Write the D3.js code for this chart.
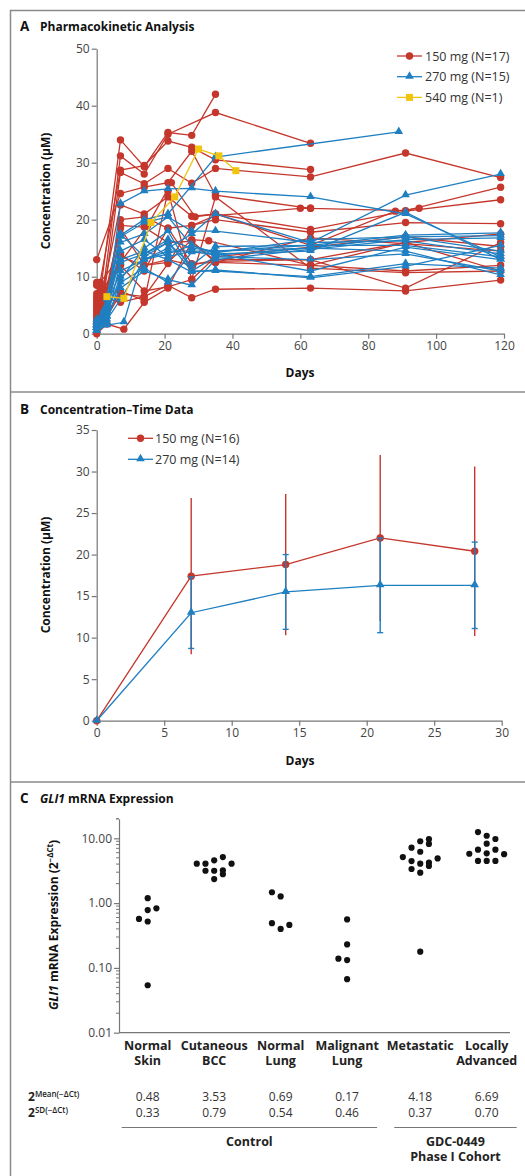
<!DOCTYPE html>
<html lang="en">
<head>
<meta charset="UTF-8">
<title>GDC-0449 pharmacokinetics and GLI1 expression</title>
<script src="https://d3js.org/d3.v7.min.js"></script>
<style>
  body { margin: 0; background: #fff; }
  svg text { font-family: 'Open Sans', 'Liberation Sans', sans-serif; }
</style>
</head>
<body>
<div id="chart"></div>
<script>
// ---- panel A: individual patients, [day, concentration µM]
const red150 = [
  [[0,1],[1,7],[7,34],[14,29.3],[21,35.3],[28,34.8],[35,42]],
  [[0,2],[2,8],[7,31.2],[14,28],[21,35],[35,38.8],[63,33.4]],
  [[0,3],[1,9],[7,28.7],[14,29.5],[21,33.8],[28,32.7],[35,30.5],[63,28.8]],
  [[0,5],[2,6],[7,28.3],[14,26.3],[21,29],[28,26.4],[35,29],[63,27.5],[91,31.7],[119,27.4]],
  [[0,13],[7,24.6],[14,25.7],[21,26.5],[28,32],[35,24.3],[63,22],[91,21.6],[119,25.7]],
  [[0,8.5],[1,5],[7,22.6],[14,21],[21,24],[28,20.6],[35,21],[63,18.3],[91,21.5],[119,23.5]],
  [[0,6],[2,4],[7,20],[14,20.5],[21,18.5],[28,19],[35,20],[63,17.8],[91,19.5],[119,19.3]],
  [[0,4],[1,3],[7,19],[14,18.7],[21,16],[28,16.2],[35,12.5],[63,16.8],[91,15.8],[119,14.5]],
  [[0,2.5],[2,5],[7,18.5],[14,12],[21,13],[28,12],[35,13],[63,13],[91,16],[119,17.5]],
  [[0,7],[1,9],[7,13.5],[14,12],[21,12.5],[28,16.5],[33,16.3],[63,12],[91,11],[119,12]],
  [[0,5.5],[7,12],[14,7.5],[21,8.2],[28,9.5],[35,24],[63,11.5],[91,10.7],[119,11]],
  [[0,3.5],[2,2],[7,7],[14,6.5],[21,8.5],[28,6.3],[35,7.8],[63,8],[91,7.5],[119,9.4]],
  [[0,0],[3,1.7],[8,0.8],[14,5.5],[21,8],[28,16.2],[35,12.7],[63,13],[91,8],[119,16]],
  [[0,9],[1,6.5],[7,5.5],[14,6.5],[21,12.3],[28,19],[35,20.7],[60,22],[63,22]],
  [[0,4.5],[1,7],[7,12.5],[15,19],[22,26.5],[29,20.5],[35,21],[63,15.5],[88,21.5],[95,22]],
  [[0,6.5],[2,3],[7,14],[14,11],[21,18.5],[28,12.3],[35,12.5],[63,12],[91,16],[119,11]],
  [[0,1.5],[2,2.5],[7,7.5],[14,5.8],[21,25],[28,9.5],[35,13.5],[63,15.2],[91,17],[119,15.3]]
];
const blue270 = [
  [[0,1],[3,4],[7,22.8],[14,25],[21,25.4],[28,25.5],[35,25],[63,24],[91,21],[119,13.5]],
  [[0,2],[3,5],[7,17.3],[14,20],[21,21],[35,31],[89,35.4]],
  [[0,1.5],[2,3],[7,17],[14,19.5],[21,20.5],[28,18],[35,18],[63,16],[91,24.3],[119,28]],
  [[0,0.5],[3,2.5],[7,12.5],[14,14],[21,16.5],[28,15],[35,14.5],[63,15.5],[91,17.3],[119,17.7]],
  [[0,1],[2,2],[7,10],[14,13],[21,14.5],[28,14.5],[35,13.8],[63,15],[91,17],[119,17.2]],
  [[0,1.5],[3,3],[7,8],[14,11],[21,9.5],[28,8.5],[35,13],[63,14.8],[91,16.5],[119,16.8]],
  [[0,0.5],[3,1.5],[8,2],[14,14],[21,16],[28,11],[35,11],[63,10],[91,12.3],[119,11.5]],
  [[0,1],[3,4.5],[7,9],[14,11.5],[21,9],[28,14.3],[35,14],[63,11],[91,15.2],[119,13]],
  [[0,2],[3,6],[7,14.5],[14,16.5],[21,13.5],[28,14.5],[35,14.5],[63,15],[91,14.5],[119,10.3]],
  [[0,1],[2,3.5],[7,11],[14,13],[21,15],[28,17.5],[35,21],[63,16],[91,16.3],[119,14]],
  [[0,0.5],[3,3],[7,16],[14,17.5],[21,20.5],[28,15.5],[35,14],[63,14.5],[91,21.3],[119,13]],
  [[0,1.5],[3,5],[7,13],[14,14.5],[21,13],[28,10.8],[35,11.2],[63,9.8],[91,11.8],[119,15.5]],
  [[0,2.5],[2,4],[7,17.5],[14,13.5],[21,16],[28,12],[35,15.3],[63,15.5],[91,15.5],[119,13.5]],
  [[0,1],[3,2],[7,9.5],[14,15],[21,18],[28,11],[35,13.5],[63,13],[91,14],[119,11]],
  [[0,0.5],[2,1.5],[7,6],[14,13],[21,14],[28,15.5],[35,14.2],[63,16.5],[91,17],[119,14.5]]
];
const yellow540 = [
  [[3,6.5],[8,6.2],[16,19.5],[23,24],[30,32.4],[36,31.2],[41,28.6]]
];
const legendA = ["150 mg (N=17)", "270 mg (N=15)", "540 mg (N=1)"];

// ---- panel B: mean ± SD
const daysB = [0, 7, 14, 21, 28];
const mean150 = [0, 17.4, 18.8, 22, 20.4];
const sd150 = [0, 9.4, 8.5, 10, 10.2];
const mean270 = [0, 13, 15.5, 16.3, 16.3];
const sd270 = [0, 4.3, 4.5, 5.7, 5.2];
const legendB = ["150 mg (N=16)", "270 mg (N=14)"];

// ---- panel C: GLI1 expression, [column offset, value]
const categories = [["Normal","Skin"], ["Cutaneous","BCC"], ["Normal","Lung"], ["Malignant","Lung"], ["Metastatic"], ["Locally","Advanced"]];
const catGroup = [0, 0, 0, 0, 1, 1];
const groupNames = [["Control"], ["GDC-0449", "Phase I Cohort"]];
const meanVals = ["0.48", "3.53", "0.69", "0.17", "4.18", "6.69"];
const sdVals = ["0.33", "0.79", "0.54", "0.46", "0.37", "0.70"];
const dotsC = [
  [[0,1.19],[0,0.78],[1,0.83],[-1,0.57],[0,0.52],[0,0.054]],
  [[-2,4.06],[-1,4.06],[0,4.57],[1,5.14],[2,4.06],[-1,3.16],[0,3.16],[1,3.2],[1,2.8],[0,2.35]],
  [[-1,1.47],[0,1.27],[-1,0.49],[0,0.40],[1,0.46]],
  [[0,0.56],[0,0.23],[-1,0.139],[0,0.132],[0,0.067]],
  [[-1,7.16],[0,9.0],[1,9.7],[1,8.2],[-2,5.14],[-1,4.46],[0,6.2],[2,4.9],[0,4.06],[1,4.2],[1,3.74],[-1,3.36],[0,2.95],[0,0.178]],
  [[-1,12.5],[0,10.96],[1,9.76],[0,8.27],[-2,5.78],[-1,6.67],[0,5.86],[1,6.67],[2,5.7],[-1,4.47],[0,4.47],[1,4.47]]
];
const yTicksC = [0.01, 0.1, 1, 10];

const RED = "#c5372c", BLUE = "#1f7fc1", YELLOW = "#f1c40f";
const W = 525, H = 1176;

const svg = d3.select("#chart").append("svg")
    .attr("width", W).attr("height", H);

// frame and panel separators
svg.append("rect").attr("x", 10.5).attr("y", 10.5).attr("width", 540).attr("height", 1200)
    .attr("fill", "none").attr("stroke", "#8a8a8a").attr("stroke-width", 1.5);
[392, 782].forEach(y => svg.append("line").attr("x1", 10).attr("x2", W).attr("y1", y).attr("y2", y)
    .attr("stroke", "#8a8a8a").attr("stroke-width", 1.5));

function panelTitle(letter, y, parts) {
    svg.append("text").attr("x", 20).attr("y", y).attr("font-size", 13.5).attr("font-weight", 700)
        .attr("fill", "#111").text(letter);
    const t = svg.append("text").attr("x", 40).attr("y", y).attr("font-size", 12)
        .attr("font-weight", 700).attr("fill", "#111");
    parts.forEach(p => t.append("tspan").attr("font-style", p.italic ? "italic" : null).text(p.text));
}

function styleAxis(g) {
    g.select(".domain").attr("stroke", "#777").attr("stroke-width", 1.2);
    g.selectAll(".tick line").attr("stroke", "#777").attr("stroke-width", 1.2);
    g.selectAll(".tick text").attr("fill", "#444").attr("font-size", 12)
        .attr("font-family", "'Open Sans', 'Liberation Sans', sans-serif");
}

function marker(g, kind, color, x, y) {
    if (kind === "circle") {
        g.append("circle").attr("cx", x).attr("cy", y).attr("r", 3.7).attr("fill", color);
    } else if (kind === "triangle") {
        g.append("path").attr("d", d3.symbol(d3.symbolTriangle).size(32)())
            .attr("transform", `translate(${x},${y - 0.5})`).attr("fill", color);
    } else {
        g.append("rect").attr("x", x - 3.5).attr("y", y - 3.5).attr("width", 7).attr("height", 7).attr("fill", color);
    }
}

function axisLabel(x, y, text, rotate) {
    svg.append("text").attr("transform", `translate(${x},${y})` + (rotate ? " rotate(-90)" : ""))
        .attr("text-anchor", "middle").attr("font-size", 12).attr("font-weight", 700)
        .attr("fill", "#111").text(text);
}

// ================= Panel A =================
panelTitle("A", 31, [{text: "Pharmacokinetic Analysis"}]);
const xA = d3.scaleLinear().domain([0, 120]).range([96.7, 504]);
const yA = d3.scaleLinear().domain([0, 50]).range([333.7, 48.7]);

svg.append("g").attr("transform", `translate(0,${yA(0)})`)
    .call(d3.axisBottom(xA).tickValues(d3.range(0, 121, 20)).tickSize(5).tickSizeOuter(0).tickPadding(3))
    .call(styleAxis);
svg.append("g").attr("transform", `translate(${xA(0)},0)`)
    .call(d3.axisLeft(yA).tickValues(d3.range(0, 51, 10)).tickSize(5).tickSizeOuter(0).tickPadding(2))
    .call(styleAxis);
axisLabel(300, 377, "Days");
axisLabel(50, 191, "Concentration (\u03BCM)", true);

const lineA = d3.line().x(d => xA(d[0])).y(d => yA(d[1]));
const gA = svg.append("g");
function drawSeries(list, color, kind) {
    list.forEach(s => {
        gA.append("path").datum(s).attr("d", lineA).attr("fill", "none")
            .attr("stroke", color).attr("stroke-width", 1.3);
        s.forEach(d => marker(gA, kind, color, xA(d[0]), yA(d[1])));
    });
}
drawSeries(red150, RED, "circle");
drawSeries(blue270, BLUE, "triangle");
drawSeries(yellow540, YELLOW, "square");

const legA = svg.append("g");
[[RED, "circle"], [BLUE, "triangle"], [YELLOW, "square"]].forEach((m, i) => {
    const y = 56 + i * 20.7;
    legA.append("line").attr("x1", 397).attr("x2", 422).attr("y1", y).attr("y2", y)
        .attr("stroke", m[0]).attr("stroke-width", 1.3);
    marker(legA, m[1], m[0], 409.5, y);
    legA.append("text").attr("x", 425).attr("y", y).attr("dy", "0.36em")
        .attr("font-size", 12.5).attr("fill", "#333").text(legendA[i]);
});

// ================= Panel B =================
panelTitle("B", 414, [{text: "Concentration\u2013Time Data"}]);
const xB = d3.scaleLinear().domain([0, 30]).range([96.7, 501.7]);
const yB = d3.scaleLinear().domain([0, 35]).range([720.7, 430]);

svg.append("g").attr("transform", `translate(0,${yB(0)})`)
    .call(d3.axisBottom(xB).tickValues(d3.range(0, 31, 5)).tickSize(5).tickSizeOuter(0).tickPadding(3))
    .call(styleAxis);
svg.append("g").attr("transform", `translate(${xB(0)},0)`)
    .call(d3.axisLeft(yB).tickValues(d3.range(0, 36, 5)).tickSize(5).tickSizeOuter(0).tickPadding(2))
    .call(styleAxis);
axisLabel(300, 765, "Days");
axisLabel(50, 575, "Concentration (\u03BCM)", true);

const gB = svg.append("g");
function drawMean(means, sds, color, kind, caps) {
    const pts = daysB.map((d, i) => [d, means[i], sds[i]]);
    pts.filter(p => p[2] > 0).forEach(p => {
        const x = xB(p[0]), y1 = yB(p[1] - p[2]), y2 = yB(p[1] + p[2]);
        gB.append("line").attr("x1", x).attr("x2", x).attr("y1", y1).attr("y2", y2)
            .attr("stroke", color).attr("stroke-width", 1.4);
        if (caps) [y1, y2].forEach(y => gB.append("line").attr("x1", x - 3).attr("x2", x + 3)
            .attr("y1", y).attr("y2", y).attr("stroke", color).attr("stroke-width", 1.4));
    });
    gB.append("path").datum(pts).attr("fill", "none").attr("stroke", color).attr("stroke-width", 1.3)
        .attr("d", d3.line().x(d => xB(d[0])).y(d => yB(d[1])));
    pts.forEach(p => marker(gB, kind, color, xB(p[0]), yB(p[1])));
}
drawMean(mean150, sd150, RED, "circle", false);
drawMean(mean270, sd270, BLUE, "triangle", true);

const legB = svg.append("g");
[[RED, "circle"], [BLUE, "triangle"]].forEach((m, i) => {
    const y = 438.3 + i * 21;
    legB.append("line").attr("x1", 128).attr("x2", 153).attr("y1", y).attr("y2", y)
        .attr("stroke", m[0]).attr("stroke-width", 1.3);
    marker(legB, m[1], m[0], 140.5, y);
    legB.append("text").attr("x", 155).attr("y", y).attr("dy", "0.36em")
        .attr("font-size", 12.5).attr("fill", "#333").text(legendB[i]);
});

// ================= Panel C =================
panelTitle("C", 803, [{text: "GLI1", italic: true}, {text: " mRNA Expression"}]);
const yC = d3.scaleLog().domain([0.01, 20]).range([1032.7, 818.8]);
const slotC = categories.map((c, i) => i + catGroup[i] * 0.1);
const xC = d3.scaleLinear().domain([0, 5.1]).range([147.7, 486.7]);
const jitter = 8.7;

// minor ticks
const minorC = [];
[0.01, 0.1, 1, 10].forEach(dec => d3.range(2, 10).forEach(k => { if (dec * k <= 20) minorC.push(dec * k); }));
minorC.push(20);
const axC = svg.append("g").attr("transform", "translate(119,0)");
axC.call(d3.axisLeft(yC).tickValues(yTicksC).tickSize(5).tickSizeOuter(0).tickPadding(2)
    .tickFormat(d3.format(".2f")));
axC.selectAll(".minor").data(minorC).join("line").attr("class", "minor")
    .attr("x1", -3).attr("x2", 0).attr("y1", d => yC(d)).attr("y2", d => yC(d))
    .attr("stroke", "#777").attr("stroke-width", 1);
styleAxis(axC);
svg.append("line").attr("x1", 119).attr("x2", 510).attr("y1", yC(0.01)).attr("y2", yC(0.01))
    .attr("stroke", "#777").attr("stroke-width", 1.2);

const yLab = svg.append("text").attr("transform", "translate(58,925) rotate(-90)")
    .attr("text-anchor", "middle").attr("font-size", 12).attr("font-weight", 700).attr("fill", "#111");
yLab.append("tspan").attr("font-style", "italic").text("GLI1");
yLab.append("tspan").text(" mRNA Expression (2");
yLab.append("tspan").attr("font-size", 8).attr("dy", -5).text("\u2212\u0394Ct");
yLab.append("tspan").attr("dy", 5).text(")");

const gC = svg.append("g");
dotsC.forEach((col, i) => {
    gC.selectAll(null).data(col).join("circle")
        .attr("cx", d => xC(slotC[i]) + d[0] * jitter).attr("cy", d => yC(d[1]))
        .attr("r", 3.1).attr("fill", "#111");
});

// category labels
categories.forEach((c, i) => {
    const t = svg.append("text").attr("x", xC(slotC[i])).attr("y", 1050)
        .attr("text-anchor", "middle").attr("font-size", 12.5).attr("font-weight", 700).attr("fill", "#222");
    c.forEach((line, j) => t.append("tspan").attr("x", xC(slotC[i])).attr("dy", j ? 15 : 0).text(line));
});

// summary rows
[["Mean(\u2212\u0394Ct)", meanVals, 1101], ["SD(\u2212\u0394Ct)", sdVals, 1117]].forEach(r => {
    const t = svg.append("text").attr("x", 28).attr("y", r[2]).attr("font-size", 12)
        .attr("font-weight", 700).attr("fill", "#222");
    t.append("tspan").text("2");
    t.append("tspan").attr("font-size", 8).attr("font-weight", 600).attr("dy", -4.5).text(r[0]);
    r[1].forEach((v, i) => svg.append("text").attr("x", xC(slotC[i])).attr("y", r[2])
        .attr("text-anchor", "middle").attr("font-size", 12).attr("fill", "#333").text(v));
});

// group brackets
[0, 1].forEach(g => {
    const idx = d3.range(categories.length).filter(i => catGroup[i] === g);
    const x0 = xC(slotC[idx[0]]) - 26, x1 = xC(slotC[idx[idx.length - 1]]) + 30;
    svg.append("line").attr("x1", x0).attr("x2", x1).attr("y1", 1127.5).attr("y2", 1127.5)
        .attr("stroke", "#777").attr("stroke-width", 1.2);
    const t = svg.append("text").attr("y", 1146).attr("text-anchor", "middle")
        .attr("font-size", 12.5).attr("font-weight", 700).attr("fill", "#222");
    groupNames[g].forEach((line, j) => t.append("tspan").attr("x", (x0 + x1) / 2)
        .attr("dy", j ? 15 : 0).text(line));
});
</script>
</body>
</html>
